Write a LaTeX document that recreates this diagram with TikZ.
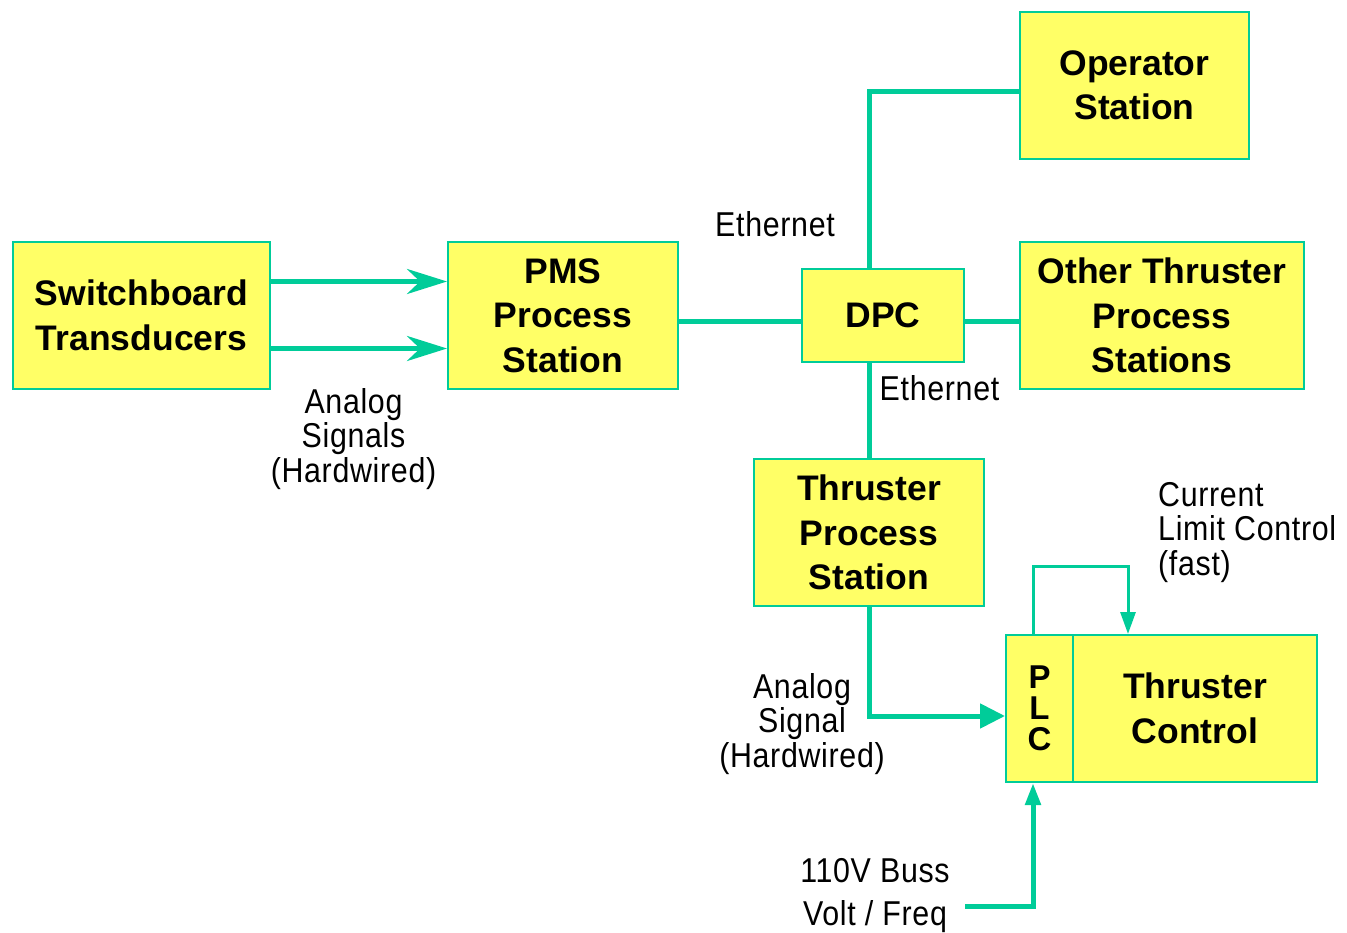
\documentclass[tikz,border=0pt]{standalone}
\usepackage{fontspec}
\setmainfont{Liberation Sans}
\newfontfamily\labelfont[FakeStretch=0.88, LetterSpace=2]{Liberation Sans}
\usetikzlibrary{arrows.meta}
\definecolor{wire}{RGB}{0,204,153}
\definecolor{boxfill}{RGB}{255,255,102}
\begin{document}
\begin{tikzpicture}[x=1pt,y=-1pt,
  block/.style={draw=wire, fill=boxfill, line width=2pt, inner sep=0pt,
    align=center, font=\fontsize{35.5}{44.5}\selectfont\bfseries},
  lbl/.style={inner sep=0pt, align=center,
    font=\labelfont\fontsize{34.5}{34.5}\selectfont},
  bus/.style={draw=wire, line width=5pt},
  fine/.style={draw=wire, line width=3pt},
  bigtip/.style={-{Stealth[length=40pt, width=25pt, inset=13pt]}},
  widetip/.style={-{Triangle[length=25pt, width=24pt]}},
  slimtip/.style={-{Triangle[length=22pt, width=15pt]}}
]
\useasboundingbox (0,0) rectangle (1347,933);

% blocks
\node[block, minimum width=257pt, minimum height=147pt] (sw) at (141.5,315.5)
  {Switchboard\\Transducers};
\node[block, minimum width=230pt, minimum height=147pt] (pms) at (563,315.5)
  {PMS\\Process\\Station};
\node[block, minimum width=162pt, minimum height=93pt] (dpc) at (883,315.5)
  {DPC};
\node[block, minimum width=229pt, minimum height=147pt] (op) at (1134.5,85.5)
  {Operator\\Station};
\node[block, minimum width=284pt, minimum height=147pt] (oth) at (1162,315.5)
  {Other Thruster\\Process\\Stations};
\node[block, minimum width=230pt, minimum height=147pt] (tps) at (869,532.5)
  {Thruster\\Process\\Station};
\node[block, minimum width=244pt, minimum height=147pt] (tc) at (1195,708.5)
  {Thruster\\Control};
\node[block, minimum width=67pt, minimum height=147pt,
  font=\fontsize{33}{31}\selectfont\bfseries] (plc) at (1039.5,708.5)
  {P\\L\\C};

% connectors
\draw[bus, bigtip] ([yshift=34pt]sw.east) -- ([yshift=34pt]pms.west);
\draw[bus, bigtip] ([yshift=-33pt]sw.east) -- ([yshift=-33pt]pms.west);
\draw[bus] ([yshift=-6.5pt]pms.east) -- ([yshift=-6.5pt]dpc.west);
\draw[bus] ([yshift=-6.5pt]dpc.east) -- ([yshift=-6.5pt]oth.west);
\draw[bus] ([xshift=-14pt]dpc.north) |- ([yshift=-6.5pt]op.west);
\draw[bus] ([xshift=-14pt]dpc.south) -- (tps.north);
\draw[bus, widetip] (tps.south) |- ([yshift=-7.5pt]plc.west);
\draw[fine, slimtip] ([xshift=-6.5pt]plc.north) -- ++(0,-68) -| ([xshift=-67pt]tc.north);
\coordinate (vin) at (965,906);
\draw[bus, slimtip] (vin) -| ([xshift=-6.5pt]plc.south);

% labels
\node[lbl, anchor=base] (eth1) at (775,237) {Ethernet};
\node[lbl, anchor=base] (eth2) at (939.5,400) {Ethernet};
\node[lbl, anchor=base] (ana1) at (353.5,482) {Analog\\Signals\\(Hardwired)};
\node[lbl, anchor=base] (ana2) at (802,767) {Analog\\Signal\\(Hardwired)};
\node[lbl, anchor=base west, align=left] (cur) at (1158,575)
  {Current\\Limit Control\\(fast)};
\node[lbl, anchor=base, font=\labelfont\fontsize{34.5}{43}\selectfont] (bus110) at (875,925)
  {110V Buss\\Volt / Freq};
\end{tikzpicture}
\end{document}
